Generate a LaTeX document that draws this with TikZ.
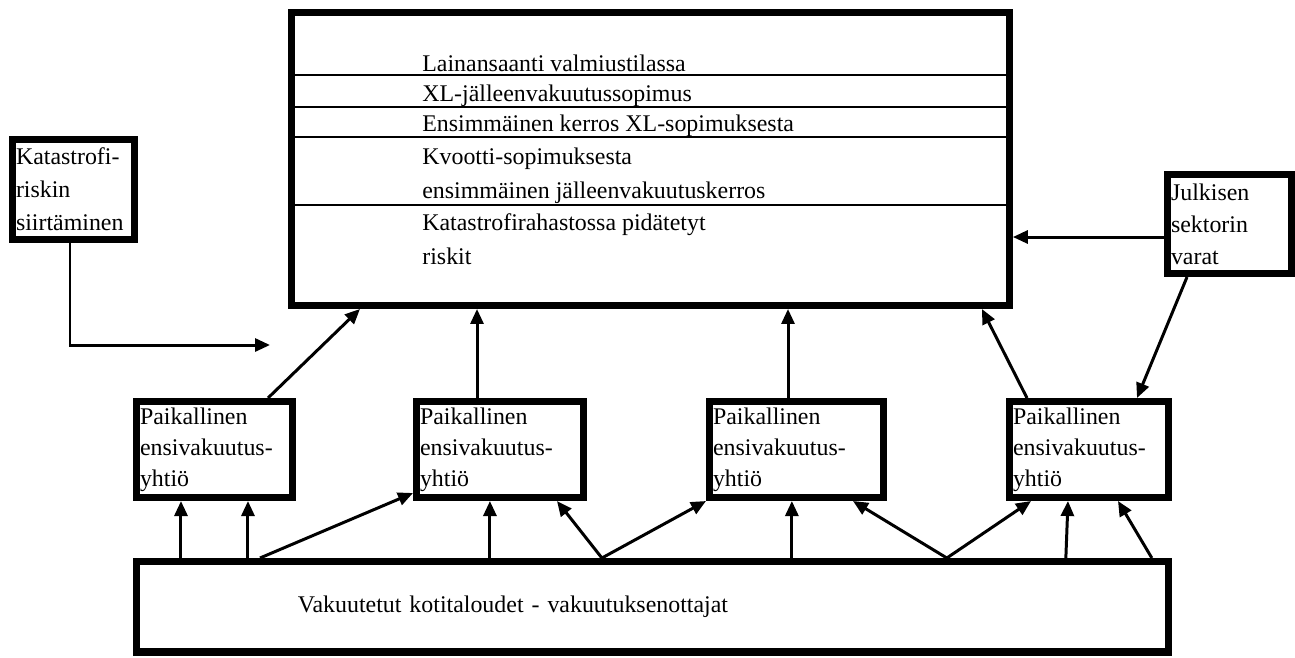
\documentclass[tikz,border=0pt]{standalone}
\usepackage{fontspec}
\setmainfont{Liberation Serif}
\usetikzlibrary{arrows.meta,calc}
\hyphenpenalty=10000
\exhyphenpenalty=10000

\tikzset{
    laatikko/.style={draw, line width=4pt, rectangle, anchor=north west,
        inner xsep=0.07cm, inner ysep=0pt, align=left,
        font=\fontsize{13.6}{17.6}\selectfont},
    nuoli/.style={line width=1.7pt, -{Triangle[length=0.3cm,width=0.26cm]}},
    erotin/.style={line width=1.6pt},
    teksti/.style={anchor=base west, inner sep=0pt, align=left,
        font=\fontsize{13.6}{19.2}\selectfont}
}

\begin{document}
\begin{tikzpicture}[x=0.02cm,y=-0.02cm]
    \useasboundingbox (0,0) rectangle (1295,657);

    \node[laatikko, minimum width=14.36cm, minimum height=5.86cm] (kerros) at (288,9) {};
    \foreach \y in {75,107,137,205}
        \draw[erotin] (kerros.west |- 0,\y) -- (kerros.east |- 0,\y);

    \node[teksti] (lainan) at (422,71) {Lainansaanti valmiustilassa};
    \node[teksti] (xl) at (422,101) {XL-jälleenvakuutussopimus};
    \node[teksti] (ensim) at (422,131) {Ensimmäinen kerros XL-sopimuksesta};
    \node[teksti] (kvootti) at (422,198) {Kvootti-sopimuksesta\\ensimmäinen jälleenvakuutuskerros};
    \node[teksti] (katas) at (422,264) {Katastrofirahastossa pidätetyt\\riskit};

    \node[laatikko, text width=2.30cm, minimum height=2.0cm,
        font=\fontsize{13.6}{18.8}\selectfont] (siirto) at (9,136) {Katastrofi-\\riskin\\siirtäminen};
    \coordinate (siirtokohde) at (270,345);

    \node[laatikko, text width=2.34cm, minimum height=1.98cm,
        font=\fontsize{13.6}{18.2}\selectfont] (julkinen) at (1164,171) {Julkisen\\sektorin\\varat};

    \node[laatikko, text width=2.98cm, minimum height=1.92cm] (pai1) at (133,398) {Paikallinen\\ensivakuutus-\\yhtiö};
    \node[laatikko, text width=3.20cm, minimum height=1.92cm] (pai2) at (413,398) {Paikallinen\\ensivakuutus-\\yhtiö};
    \node[laatikko, text width=3.34cm, minimum height=1.92cm] (pai3) at (706,398) {Paikallinen\\ensivakuutus-\\yhtiö};
    \node[laatikko, text width=3.04cm, minimum height=1.92cm] (pai4) at (1006,398) {Paikallinen\\ensivakuutus-\\yhtiö};

    \node[laatikko, text width=14.18cm, inner xsep=3.23cm, minimum height=1.81cm] (koti) at (133,558) {Vakuutetut kotitaloudet - vakuutuksenottajat};

    % ylös kerroksiin
    \draw[nuoli] ([xshift=-0.07cm]siirto.south) |- (siirtokohde);
    \draw[nuoli] ([xshift=-0.56cm]pai1.north east) -- ([xshift=1.44cm]kerros.south west);
    \draw[nuoli] ([xshift=-0.46cm]pai2.north) -- ([xshift=-0.46cm]pai2.north |- kerros.south);
    \draw[nuoli] ([xshift=-0.17cm]pai3.north) -- ([xshift=-0.17cm]pai3.north |- kerros.south);
    \draw[nuoli] ([xshift=0.42cm]pai4.north west) -- ([xshift=-0.62cm]kerros.south east);
    \draw[nuoli] ([yshift=-0.26cm]julkinen.west) -- ([yshift=-0.26cm]julkinen.west -| kerros.east);
    \draw[nuoli] ([xshift=-0.85cm]julkinen.south) -- ([xshift=-0.7cm]pai4.north east);

    % kotitalouksista yhtiöihin
    \draw[nuoli] ([xshift=0.96cm]koti.north west) -- ([xshift=0.96cm]koti.north west |- pai1.south);
    \draw[nuoli] ([xshift=2.30cm]koti.north west) -- ([xshift=2.30cm]koti.north west |- pai1.south);
    \draw[nuoli] ([xshift=2.54cm]koti.north west) -- ([yshift=0.16cm]pai2.south west);
    \draw[nuoli] ([xshift=7.14cm]koti.north west) -- ([xshift=7.14cm]koti.north west |- pai2.south);
    \draw[nuoli] ([xshift=9.38cm]koti.north west) -- ([xshift=-0.6cm]pai2.south east);
    \draw[nuoli] ([xshift=9.38cm]koti.north west) -- (pai3.south west);
    \draw[nuoli] ([xshift=13.18cm]koti.north west) -- ([xshift=13.18cm]koti.north west |- pai3.south);
    \draw[nuoli] ([xshift=16.28cm]koti.north west) -- ([xshift=-0.68cm]pai3.south east);
    \draw[nuoli] ([xshift=16.28cm]koti.north west) -- ([xshift=0.5cm]pai4.south west);
    \draw[nuoli] ([xshift=-2.12cm]koti.north east) -- ([xshift=-0.42cm]pai4.south);
    \draw[nuoli] ([xshift=-0.4cm]koti.north east) -- ([xshift=-1.08cm]pai4.south east);
\end{tikzpicture}
\end{document}
